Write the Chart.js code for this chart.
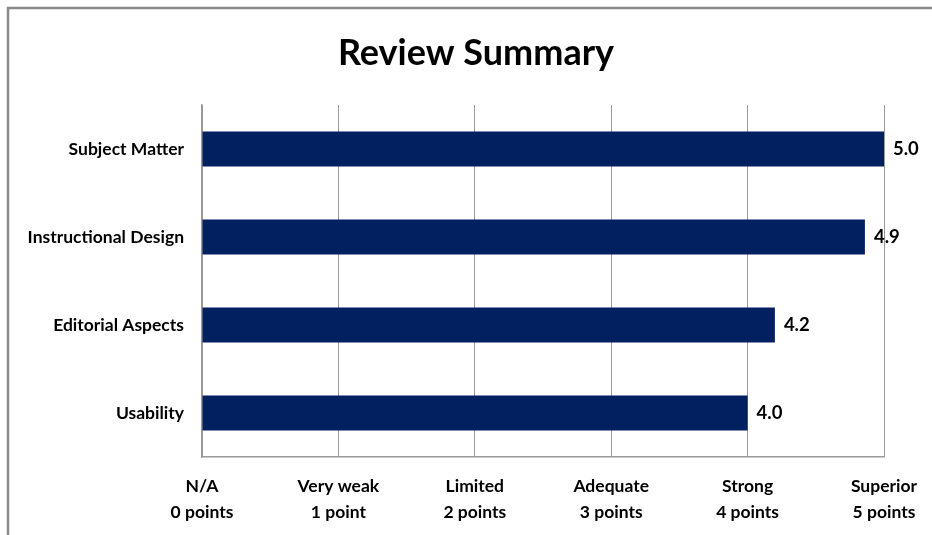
<!DOCTYPE html>
<html>
<head>
<meta charset="utf-8">
<script src="https://cdn.jsdelivr.net/npm/chart.js@4/dist/chart.umd.min.js"></script>
<style>
  html, body { margin: 0; padding: 0; background: #fff; }
  #wrap { width: 932px; height: 535px; position: relative; }
</style>
</head>
<body>
<div id="wrap"><canvas id="c" width="932" height="535"></canvas></div>
<script>
const categories = ["Subject Matter", "Instructional Design", "Editorial Aspects", "Usability"];
const scores = [5.0, 4.86, 4.2, 4.0];
const tickNames = ["N/A", "Very weak", "Limited", "Adequate", "Strong", "Superior"];
const tickPoints = ["0 points", "1 point", "2 points", "3 points", "4 points", "5 points"];
const chartTitle = "Review Summary";

const FONT = "Lato, 'Open Sans', sans-serif";

const frame = {
  id: 'frame',
  beforeDraw(chart) {
    const ctx = chart.ctx;
    ctx.save();
    ctx.fillStyle = '#fff';
    ctx.fillRect(0, 0, chart.width, chart.height);
    ctx.strokeStyle = '#8a8a8a';
    ctx.lineWidth = 2.5;
    ctx.strokeRect(8, 8, chart.width + 20, chart.height + 20);
    ctx.restore();
  },
  afterDraw(chart) {
    const ctx = chart.ctx;
    ctx.save();
    ctx.font = "bold 36px " + FONT;
    ctx.fillStyle = '#000';
    ctx.textAlign = 'center';
    ctx.textBaseline = 'middle';
    ctx.fillText(chartTitle, 476, 53);
    ctx.restore();
  }
};

const valueLabels = {
  id: 'valueLabels',
  afterDatasetsDraw(chart) {
    const ctx = chart.ctx;
    const meta = chart.getDatasetMeta(0);
    ctx.save();
    ctx.font = "bold 18.5px " + FONT;
    ctx.fillStyle = '#000';
    ctx.textAlign = 'left';
    ctx.textBaseline = 'middle';
    meta.data.forEach((bar, i) => {
      ctx.fillText(scores[i].toFixed(1), bar.x + 9, bar.y);
    });
    ctx.restore();
  }
};

new Chart(document.getElementById('c'), {
  type: 'bar',
  data: {
    labels: categories,
    datasets: [{
      data: scores,
      backgroundColor: '#02205f',
      borderWidth: 0,
      categoryPercentage: 1,
      barPercentage: 0.395
    }]
  },
  options: {
    indexAxis: 'y',
    responsive: false,
    animation: false,
    layout: { padding: { left: 0, right: 48, top: 105, bottom: 0 } },
    plugins: {
      legend: { display: false },
      tooltip: { enabled: false },
      title: { display: false }
    },
    scales: {
      x: {
        min: 0, max: 5,
        ticks: {
          stepSize: 1,
          color: '#000',
          font: { family: FONT, size: 17.5, weight: 'bold', lineHeight: 1.5 },
          padding: 16,
          maxRotation: 0,
          callback: (v) => [tickNames[v], tickPoints[v]]
        },
        grid: { color: '#9a9a9a', lineWidth: 1, drawTicks: false },
        border: { display: true, color: '#9a9a9a', width: 1.5 },
        afterFit(scale) { scale.height = 78; scale.paddingRight = 0; scale.paddingLeft = 0; }
      },
      y: {
        ticks: {
          color: '#000',
          font: { family: FONT, size: 17.5, weight: 'bold' },
          padding: 18
        },
        grid: { display: false, drawTicks: false },
        border: { display: true, color: '#9a9a9a', width: 1.5 },
        afterFit(scale) { scale.width = 202; }
      }
    }
  },
  plugins: [frame, valueLabels]
});
</script>
</body>
</html>
